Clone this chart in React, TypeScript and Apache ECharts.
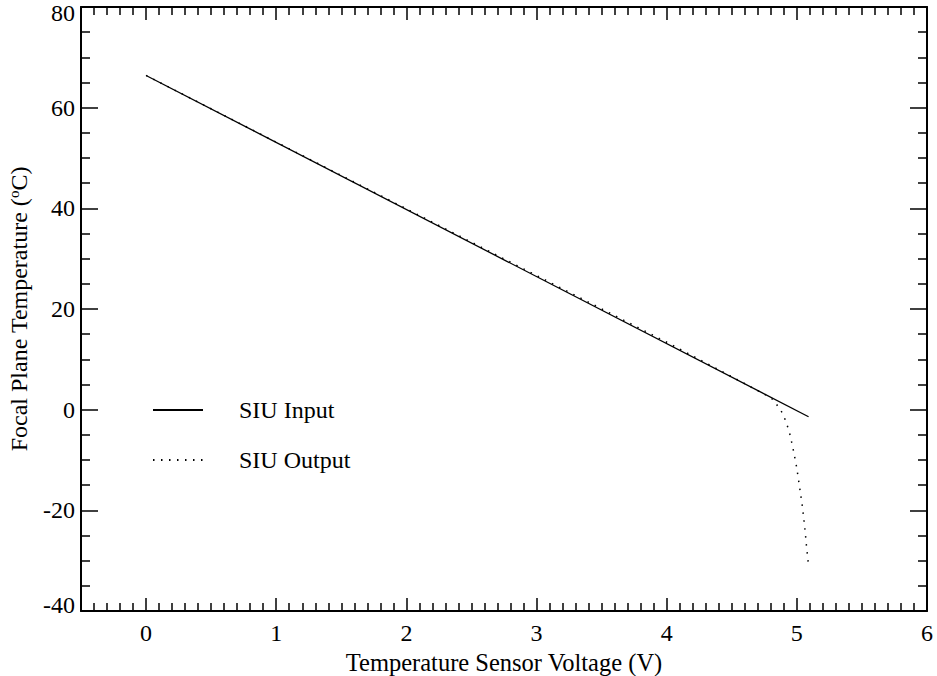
import React, { useEffect, useRef } from "react";
import * as echarts from "echarts";

const inputData: [number, number][] = [
  [0, 66.4],
  [5.09, -1.4],
];

const outputData: [number, number][] = [
  [0, 66.4],
  [4.0, 13.4],
  [4.75, 3.1],
  [4.818, 2.0],
  [4.856, 0.6],
  [4.89, -0.7],
  [4.915, -2.3],
  [4.933, -3.7],
  [4.95, -5.2],
  [4.976, -8.4],
  [4.999, -11.5],
  [5.025, -16.1],
  [5.043, -19.3],
  [5.063, -23.9],
  [5.074, -27.1],
  [5.09, -31.0],
];

const seriesNames = ["SIU Input", "SIU Output"];
const xTitle = "Temperature Sensor Voltage (V)";
const yTitle = "Focal Plane Temperature ({s|o}C)";

const FONT = "Liberation Serif";

export default function App() {
  const ref = useRef<HTMLDivElement>(null);
  useEffect(() => {
    if (!ref.current) return;
    const chart = echarts.init(ref.current, null, { renderer: "svg" });
    const axisLine = { show: true, onZero: false, lineStyle: { color: "#000", width: 2 } };
    const xCommon = {
      type: "value" as const,
      min: -0.5,
      max: 6,
      splitNumber: 6,
      splitLine: { show: false },
      axisLine,
      axisTick: { show: true, inside: true, length: 13, lineStyle: { color: "#000", width: 1.5 } },
      minorTick: { show: true, splitNumber: 10, length: 8, lineStyle: { color: "#000", width: 1.5 } },
    };
    const yCommon = {
      type: "value" as const,
      min: -40,
      max: 80,
      interval: 20,
      splitLine: { show: false },
      axisLine,
      axisTick: { show: true, inside: true, length: 17, lineStyle: { color: "#000", width: 1.5 } },
      minorTick: { show: true, splitNumber: 4, length: 9, lineStyle: { color: "#000", width: 1.5 } },
    };
    chart.setOption({
      animation: false,
      backgroundColor: "#fff",
      textStyle: { fontFamily: FONT },
      grid: { left: 81, top: 7, right: 10, bottom: 65, containLabel: false, outerBoundsMode: "none" },
      legend: {
        orient: "vertical",
        left: 147,
        top: 393,
        itemWidth: 50,
        itemHeight: 14,
        itemGap: 26,
        itemStyle: { opacity: 0 },
        textStyle: { fontFamily: FONT, fontSize: 24, color: "#000", padding: [0, 0, 0, 31] },
        data: seriesNames,
      },
      xAxis: [
        {
          ...xCommon,
          position: "bottom",
          name: xTitle,
          nameLocation: "middle",
          nameGap: 28,
          nameTextStyle: { fontFamily: FONT, fontSize: 24.5, color: "#000" },
          axisLabel: {
            show: true,
            margin: 10,
            color: "#000",
            fontFamily: FONT,
            fontSize: 24,
            showMinLabel: false,
            formatter: (v: number) => (Number.isInteger(v) ? String(v) : ""),
          },
        },
        { ...xCommon, position: "top", axisLabel: { show: false } },
      ],
      yAxis: [
        {
          ...yCommon,
          position: "left",
          name: yTitle,
          nameLocation: "middle",
          nameGap: 50,
          nameRotate: 90,
          nameTextStyle: {
            fontFamily: FONT,
            fontSize: 24,
            color: "#000",
            rich: { s: { fontFamily: FONT, fontSize: 15, color: "#000", padding: [0, 0, 10, 0] } },
          },
          axisLabel: {
            show: true,
            margin: 6,
            color: "#000",
            fontFamily: FONT,
            fontSize: 24,
            lineHeight: 12,
            verticalAlignMinLabel: "bottom",
            verticalAlignMaxLabel: "top",
          },
        },
        { ...yCommon, position: "right", axisLabel: { show: false } },
      ],
      series: [
        {
          name: seriesNames[0],
          type: "line",
          data: inputData,
          showSymbol: false,
          symbol: "none",
          lineStyle: { color: "#000", width: 1.3, type: "solid" },
          itemStyle: { color: "#000" },
        },
        {
          name: seriesNames[1],
          type: "line",
          data: outputData,
          showSymbol: false,
          symbol: "none",
          lineStyle: { color: "#000", width: 1.5, type: [1.5, 6.5] },
          itemStyle: { color: "#000" },
        },
      ],
    });
    return () => chart.dispose();
  }, []);
  return (
    <div
      ref={ref}
      style={{ position: "fixed", left: 0, top: 0, width: 937, height: 676, background: "#fff" }}
    />
  );
}
